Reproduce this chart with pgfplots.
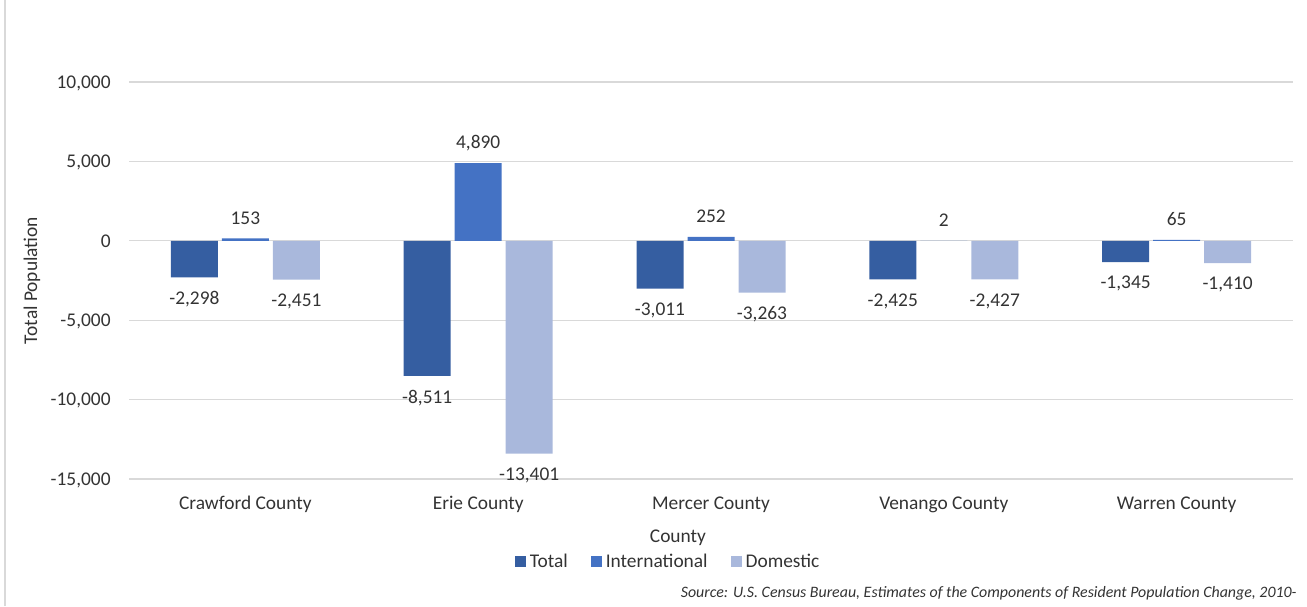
\documentclass[border=0pt]{standalone}
\usepackage{pgfplots}
\pgfplotsset{compat=1.18}
\usepackage{fontspec}
\setmainfont{Carlito}
\definecolor{cTotal}{HTML}{355EA1}
\definecolor{cIntl}{HTML}{4472C4}
\definecolor{cDom}{HTML}{A9B8DC}
\definecolor{cGrid}{HTML}{D9D9D9}
\definecolor{cText}{HTML}{333333}
\newcommand{\cf}{\fontsize{9.7}{11.6}\selectfont}
\begin{document}
\begin{tikzpicture}[x=1pt,y=1pt]
\path[use as bounding box] (0,0) rectangle (653.5,303);
\draw[cGrid, line width=1pt] (2.5,0) -- (2.5,303);
\begin{axis}[
  at={(64.5pt,63.5pt)}, anchor=south west,
  scale only axis, width=582pt, height=198.5pt,
  xmin=-0.5, xmax=4.5, ymin=-15000, ymax=10000,
  ytick={-15000,-10000,-5000,0,5000,10000},
  xtick={0,1,2,3,4},
  xticklabels={Crawford County,Erie County,Mercer County,Venango County,Warren County},
  scaled y ticks=false,
  /pgf/number format/.cd, fixed, precision=0, 1000 sep={,}, assume math mode=true,
  /pgfplots/.cd,
  ymajorgrids, grid style={cGrid, line width=0.6pt},
  axis line style={draw=none}, tick style={draw=none},
  ybar, bar width=23.5pt,
  tick label style={font=\cf, text=cText},
  yticklabel style={anchor=east, inner sep=0pt, xshift=-9pt, text depth=0pt},
  xticklabel style={anchor=base, inner sep=0pt, yshift=-10.9pt},
  ylabel={Total Population},
  ylabel style={at={(axis description cs:-0.0833,0.5)}, anchor=center, font=\cf, text=cText},
  xlabel={County},
  xlabel style={at={(axis description cs:0.4716,-0.149)}, anchor=center, font=\cf, text=cText},
  nodes near coords, nodes near coords align={vertical},
  every node near coord/.append style={font=\cf, text=cText, inner ysep=6.9pt, text depth=0pt},
  legend columns=-1,
  legend style={draw=none, fill=none, at={(axis description cs:0.464,-0.209)}, anchor=center,
    font=\cf, text=cText, nodes={inner xsep=2pt, inner ysep=0pt},
    /tikz/every even column/.append style={column sep=9.5pt}},
  legend image code/.code={\fill[#1] (0pt,-2.75pt) rectangle (5.5pt,2.75pt);},
]
\addplot[fill=cTotal, draw=none, bar shift=-25.5pt] coordinates {(0,-2298) (1,-8511) (2,-3011) (3,-2425) (4,-1345)};
\addplot[fill=cIntl, draw=none, bar shift=0pt] coordinates {(0,153) (1,4890) (2,252) (3,2) (4,65)};
\addplot[fill=cDom, draw=none, bar shift=25.5pt] coordinates {(0,-2451) (1,-13401) (2,-3263) (3,-2427) (4,-1410)};
\legend{Total,International,Domestic}
\end{axis}
\node[anchor=base east, inner sep=0pt, font=\fontsize{7.95}{9.5}\selectfont\itshape, text=cText] at (648.5,4.5) {Source: U.S. Census Bureau, Estimates of the Components of Resident Population Change, 2010-};
\end{tikzpicture}
\end{document}
